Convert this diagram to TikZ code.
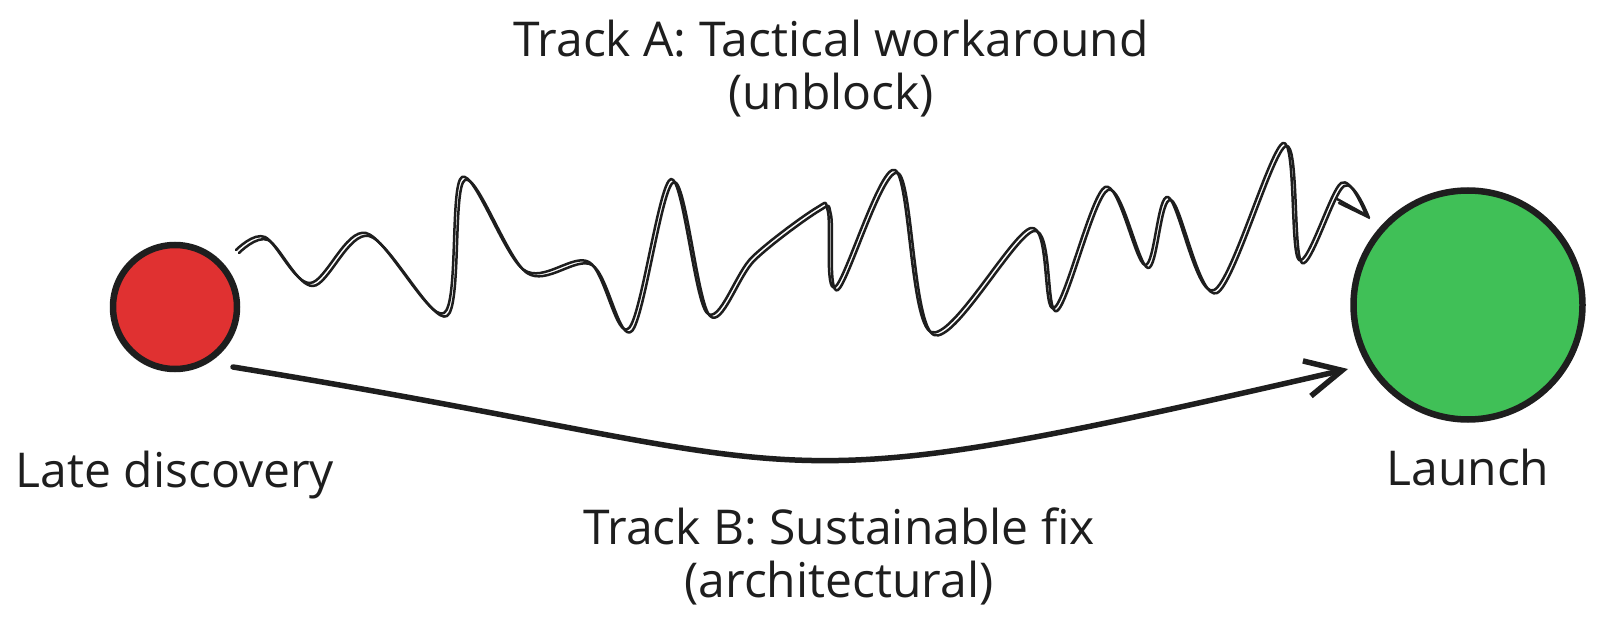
\documentclass[tikz,border=0pt]{standalone}
\usepackage{fontspec}
\setmainfont{Open Sans}
\usetikzlibrary{arrows.meta}
\definecolor{ink}{HTML}{1E1E1E}
\definecolor{redfill}{HTML}{E03131}
\definecolor{greenfill}{HTML}{40C057}
\tikzset{
  dot/.style={circle, draw=ink, line width=6.5pt, inner sep=0pt},
  lbl/.style={text=ink, font=\fontsize{48}{53}\selectfont, inner sep=0pt, align=center, anchor=base},
  wave/.style={draw=ink, line width=2.5pt, line cap=round, line join=round},
  mainarrow/.style={draw=ink, line width=5.5pt, line cap=round, line join=round,
    -{Straight Barb[length=36pt, width=36pt, line width=5.5pt]}},
}
\begin{document}
\begin{tikzpicture}[x=1pt, y=-1pt]
\useasboundingbox (0,0) rectangle (1600,631);
\fill[white] (0,0) rectangle (1600,631);

\node[dot, fill=redfill, minimum size=124pt] (late) at (175,307) {};
\node[dot, fill=greenfill, minimum size=229pt] (launch) at (1468,305) {};

\node[lbl] (latelbl) at (175,487) {Late discovery};
\node[lbl] (launchlbl) at (1468,485) {Launch};
\node[lbl] (tracka) at (831,110) {Track A: Tactical workaround\\(unblock)};
\node[lbl] (trackb) at (839,597) {Track B: Sustainable fix\\(architectural)};

% Track B: smooth arrow
\coordinate (bs) at (233,367);
\coordinate (be) at (1348,369);
\draw[mainarrow] (bs) .. controls (853,468) and (728,512) .. (be);

% Track A: sketchy wave (double stroke)
\coordinate (ws) at (236,250);
\coordinate (we) at (1366,215);
\foreach \dx/\dy in {0/0, 3/3}{
  \begin{scope}[shift={(\dx,\dy)}]
  \draw[wave] plot[smooth, tension=0.55] coordinates {
    (236,250) (265,237) (310,283) (366,233) (444,313) (462,177) (524,270)
    (589,262) (629,328) (671,179) (707,313) (752,257) (816,208) (828,212)
    (835,287) (895,170) (931,332) (1031,228) (1054,308) (1105,187)
    (1145,265) (1168,197) (1214,290) (1283,143) (1299,260) (1341,183)
    (1366,215)};
  \end{scope}
}
\draw[wave] (1337,199) -- (we);
\draw[wave] (1339,203) -- ([shift={(2,2)}]we);
\end{tikzpicture}
\end{document}
